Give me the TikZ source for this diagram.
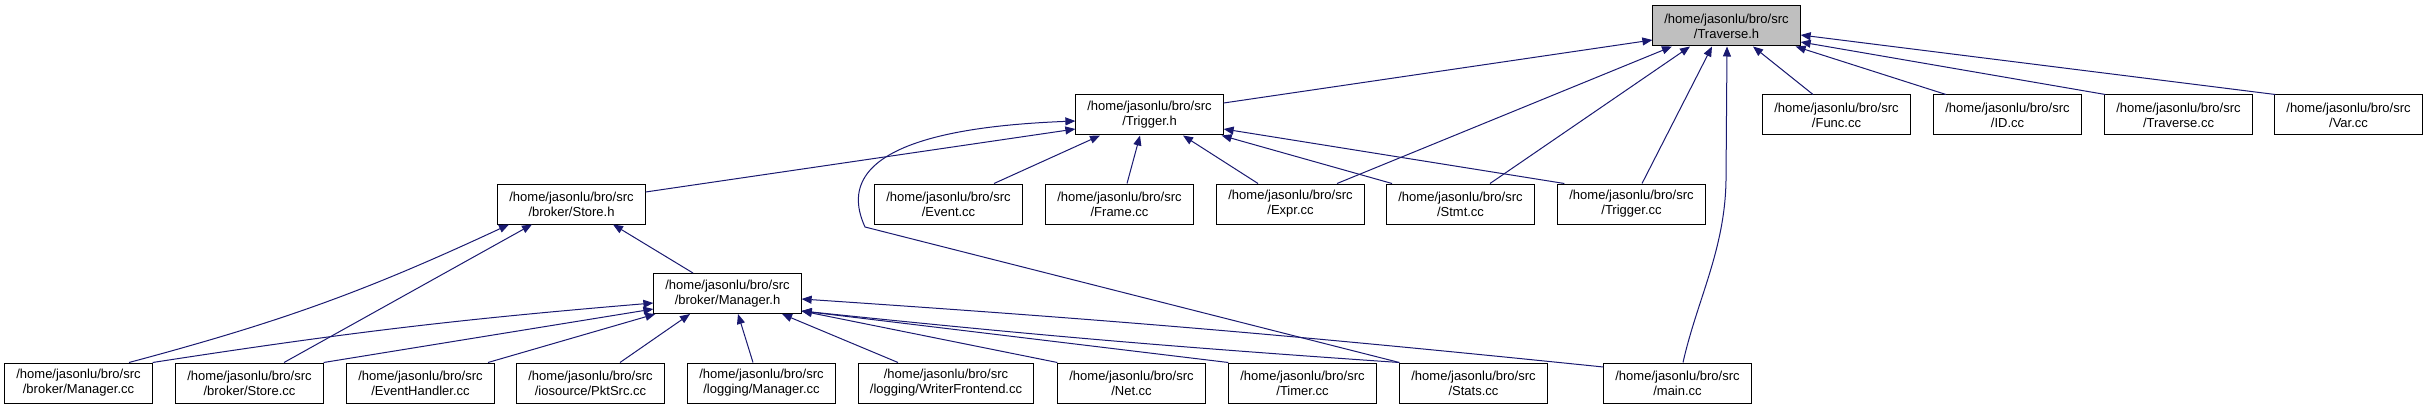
\documentclass[tikz,border=0pt]{standalone}
\usepackage{fontspec}
\setmainfont{Liberation Sans}
\usetikzlibrary{arrows.meta}
\definecolor{edgeblue}{HTML}{191970}
\tikzset{
  box/.style={draw=black, line width=1pt, fill=white, align=center,
    minimum width=147pt, minimum height=40pt, inner xsep=11.5pt, inner ysep=0pt,
    font=\fontsize{13}{15}\selectfont},
  hdr/.style={box, fill=black!25},
  dep/.style={edgeblue, line width=1pt, -{Triangle[length=10pt,width=8pt]}}}

\begin{document}
\begin{tikzpicture}[x=1pt,y=1pt]
  \useasboundingbox (0,0) rectangle (2428,-409);
    \node[hdr] (travh) at (1726.5,-26) {/home/jasonlu/bro/src\\/Traverse.h};

    \node[box] (trigh) at (1149.5,-115) {/home/jasonlu/bro/src\\/Trigger.h};
    \node[box] (funccc) at (1836.5,-115) {/home/jasonlu/bro/src\\/Func.cc};
    \node[box] (idcc) at (2007.5,-115) {/home/jasonlu/bro/src\\/ID.cc};
    \node[box] (travcc) at (2178.5,-115) {/home/jasonlu/bro/src\\/Traverse.cc};
    \node[box] (varcc) at (2348.5,-115) {/home/jasonlu/bro/src\\/Var.cc};

    \node[box] (storeh) at (571.5,-204) {/home/jasonlu/bro/src\\/broker/Store.h};
    \node[box] (eventcc) at (948.5,-204) {/home/jasonlu/bro/src\\/Event.cc};
    \node[box] (framecc) at (1119.5,-204) {/home/jasonlu/bro/src\\/Frame.cc};
    \node[box] (exprcc) at (1290.5,-204) {/home/jasonlu/bro/src\\/Expr.cc};
    \node[box] (stmtcc) at (1460.5,-204) {/home/jasonlu/bro/src\\/Stmt.cc};
    \node[box] (triggercc) at (1631.5,-204) {/home/jasonlu/bro/src\\/Trigger.cc};

    \node[box] (managerh) at (727.5,-293.5) {/home/jasonlu/bro/src\\/broker/Manager.h};

    \node[box] (bmanagercc) at (78.5,-383) {/home/jasonlu/bro/src\\/broker/Manager.cc};
    \node[box] (bstorecc) at (249.5,-383) {/home/jasonlu/bro/src\\/broker/Store.cc};
    \node[box] (eventhandlercc) at (420.5,-383) {/home/jasonlu/bro/src\\/EventHandler.cc};
    \node[box] (pktsrccc) at (590.5,-383) {/home/jasonlu/bro/src\\/iosource/PktSrc.cc};
    \node[box] (lmanagercc) at (761.5,-383) {/home/jasonlu/bro/src\\/logging/Manager.cc};
    \node[box] (writerfrontendcc) at (946,-383) {/home/jasonlu/bro/src\\/logging/WriterFrontend.cc};
    \node[box] (netcc) at (1131.5,-383) {/home/jasonlu/bro/src\\/Net.cc};
    \node[box] (timercc) at (1302.5,-383) {/home/jasonlu/bro/src\\/Timer.cc};
    \node[box] (statscc) at (1473.5,-383) {/home/jasonlu/bro/src\\/Stats.cc};
    \node[box] (maincc) at (1677.5,-383) {/home/jasonlu/bro/src\\/main.cc};

    \draw[dep] ([yshift=12pt]trigh.east) -- ([yshift=-14pt]travh.west);
    \draw[dep] ([xshift=46.5pt]exprcc.north) -- ([xshift=-54.5pt]travh.south);
    \draw[dep] ([xshift=29.5pt]stmtcc.north) -- ([xshift=-36.5pt]travh.south);
    \draw[dep] ([xshift=10.5pt]triggercc.north) -- ([xshift=-14.5pt]travh.south);
    \draw[dep] ([xshift=5.5pt]maincc.north) .. controls (1697,-300) and (1725,-250) .. (1726,-180) -- ([xshift=0.5pt]travh.south);
    \draw[dep] ([xshift=-23.5pt]funccc.north) -- ([xshift=26.5pt]travh.south);
    \draw[dep] ([xshift=-61.5pt]idcc.north) -- ([xshift=-5pt]travh.south east);
    \draw[dep] ([xshift=1pt]travcc.north west) -- ([yshift=-16pt]travh.east);
    \draw[dep] ([xshift=1pt]varcc.north west) -- ([yshift=-9pt]travh.east);

    \draw[dep] ([yshift=12pt]storeh.east) -- ([yshift=-14pt]trigh.west);
    \draw[dep] (statscc.north west) -- (865,-227) .. controls (825,-140) and (975,-125) .. ([yshift=-6pt]trigh.west);
    \draw[dep] ([xshift=45.5pt]eventcc.north) -- ([xshift=-49.5pt]trigh.south);
    \draw[dep] ([xshift=7.5pt]framecc.north) -- ([xshift=-9.5pt]trigh.south);
    \draw[dep] ([xshift=-32.5pt]exprcc.north) -- ([xshift=33.5pt]trigh.south);
    \draw[dep] ([xshift=-68.5pt]stmtcc.north) -- ([xshift=-2pt]trigh.south east);
    \draw[dep] ([xshift=7pt]triggercc.north west) -- ([yshift=-14pt]trigh.east);

    \draw[dep] ([xshift=50.5pt]bmanagercc.north) to[bend right=5] ([xshift=-62.5pt]storeh.south);
    \draw[dep] ([xshift=34.5pt]bstorecc.north) -- ([xshift=-39.5pt]storeh.south);
    \draw[dep] ([xshift=-34.5pt]managerh.north) -- ([xshift=41.5pt]storeh.south);

    \draw[dep] (bmanagercc.north east) to[bend left=2] ([yshift=-9.5pt]managerh.west);
    \draw[dep] (bstorecc.north east) -- ([yshift=-15.5pt]managerh.west);
    \draw[dep] ([xshift=67.5pt]eventhandlercc.north) -- ([xshift=2pt]managerh.south west);
    \draw[dep] ([xshift=29.5pt]pktsrccc.north) -- ([xshift=-37.5pt]managerh.south);
    \draw[dep] ([xshift=-8.5pt]lmanagercc.north) -- ([xshift=10.5pt]managerh.south);
    \draw[dep] ([xshift=-48pt]writerfrontendcc.north) -- ([xshift=54.5pt]managerh.south);
    \draw[dep] (netcc.north west) -- ([yshift=-17.5pt]managerh.east);
    \draw[dep] (timercc.north west) -- ([yshift=-17.5pt]managerh.east);
    \draw[dep] (statscc.north west) to[bend left=1] ([yshift=-17.5pt]managerh.east);
    \draw[dep] ([yshift=16pt]maincc.west) to[bend right=1] ([yshift=-5.5pt]managerh.east);
\end{tikzpicture}
\end{document}
